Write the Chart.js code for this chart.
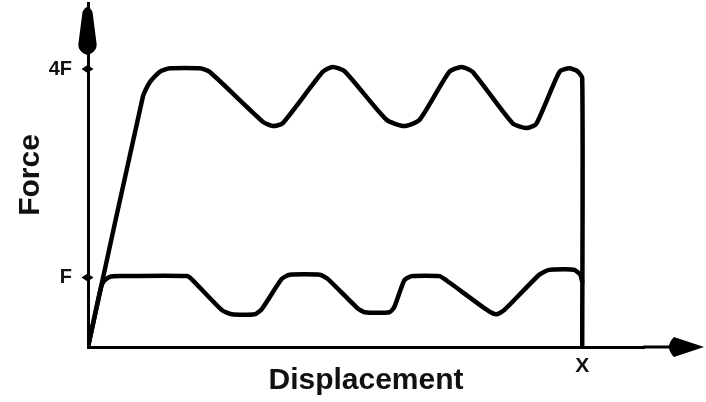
<!DOCTYPE html>
<html>
<head>
<meta charset="utf-8">
<script src="https://cdn.jsdelivr.net/npm/chart.js@4.4.1/dist/chart.umd.min.js"></script>
<style>
  html, body { margin: 0; padding: 0; background: #fff; }
  #wrap { width: 706px; height: 402px; position: relative; }
</style>
</head>
<body>
<div id="wrap"><canvas id="grafico"></canvas></div>
<script>
// Curva superior (oscila alrededor de 4F)
const upperX = [0, 0.111, 0.125, 0.145, 0.166, 0.226, 0.246, 0.354, 0.374, 0.394, 0.475, 0.495, 0.519,
                0.604, 0.640, 0.671, 0.731, 0.756, 0.778, 0.859, 0.887, 0.907, 0.954, 0.974, 0.990, 1.0, 1.0];
const upperY = [0, 3.60, 3.81, 3.96, 4.01, 4.01, 3.96, 3.24, 3.18, 3.22, 3.96, 4.03, 3.97,
                3.27, 3.18, 3.27, 3.96, 4.03, 3.96, 3.22, 3.15, 3.21, 3.96, 4.01, 3.97, 3.87, 0];

// Curva inferior (oscila alrededor de F)
const lowerX = [0, 0.026, 0.032, 0.044, 0.065, 0.200, 0.212, 0.271, 0.291, 0.337, 0.352, 0.392, 0.408,
                0.469, 0.485, 0.545, 0.560, 0.610, 0.620, 0.640, 0.655, 0.711, 0.725, 0.808, 0.826,
                0.842, 0.913, 0.933, 0.964, 0.984, 0.996, 1.0];
const lowerY = [0, 0.85, 0.95, 1.01, 1.02, 1.02, 0.96, 0.53, 0.47, 0.47, 0.55, 0.98, 1.04,
                1.04, 0.98, 0.56, 0.50, 0.50, 0.58, 0.96, 1.02, 1.02, 0.96, 0.53, 0.47,
                0.53, 1.04, 1.11, 1.12, 1.11, 1.04, 0.94];

// Marcas de los ejes
const yTickValues = [1, 4];
const yTickLabels = ['F', '4F'];
const xTickValues = [1];
const xTickLabels = ['X'];
const xTitle = 'Displacement';
const yTitle = 'Force';

Chart.defaults.font.family = '"Liberation Sans", Arial, sans-serif';
Chart.defaults.color = '#111';

// Flechas de los ejes y rombos de las marcas
const ejes = {
    id: 'ejes',
    afterDraw(chart) {
        const {ctx, chartArea, scales} = chart;
        const x0 = chartArea.left - 0.5;
        const y0 = scales.y.getPixelForValue(0);
        ctx.save();
        ctx.fillStyle = '#000';
        ctx.strokeStyle = '#000';
        ctx.lineWidth = 3;

        // prolongar el eje X hasta la flecha
        ctx.beginPath();
        ctx.moveTo(chartArea.right - 1, y0);
        ctx.lineTo(chart.width - 28, y0);
        ctx.stroke();

        const tip = chart.width - 2;
        ctx.beginPath();
        ctx.moveTo(tip, y0);
        ctx.lineTo(tip - 30, y0 - 10);
        ctx.quadraticCurveTo(tip - 40, y0, tip - 30, y0 + 10);
        ctx.closePath();
        ctx.fill();

        // flecha del eje Y
        const ty = chartArea.top + 2;
        ctx.beginPath();
        ctx.moveTo(x0, ty + 50);
        ctx.bezierCurveTo(x0 - 6, ty + 48, x0 - 10, ty + 44, x0 - 9, ty + 38);
        ctx.lineTo(x0 - 5, ty + 7);
        ctx.quadraticCurveTo(x0, ty - 3, x0 + 5, ty + 7);
        ctx.lineTo(x0 + 9, ty + 38);
        ctx.bezierCurveTo(x0 + 10, ty + 44, x0 + 6, ty + 48, x0, ty + 50);
        ctx.fill();

        // rombos en F y 4F
        yTickValues.forEach(v => {
            const py = scales.y.getPixelForValue(v);
            ctx.beginPath();
            ctx.moveTo(x0 - 6, py);
            ctx.lineTo(x0, py - 4);
            ctx.lineTo(x0 + 6, py);
            ctx.lineTo(x0, py + 4);
            ctx.closePath();
            ctx.fill();
        });
        ctx.restore();
    }
};

const ctx = document.getElementById('grafico').getContext('2d');
new Chart(ctx, {
    type: 'line',
    data: {
        datasets: [{
            label: 'Superior',
            data: upperX.map((x, i) => ({x: x, y: upperY[i]})),
            borderColor: '#000',
            borderWidth: 4.5,
            pointRadius: 0,
            tension: 0.2,
            borderJoinStyle: 'round',
            borderCapStyle: 'round',
            fill: false
        }, {
            label: 'Inferior',
            data: lowerX.map((x, i) => ({x: x, y: lowerY[i]})),
            borderColor: '#000',
            borderWidth: 4.5,
            pointRadius: 0,
            tension: 0.2,
            borderJoinStyle: 'round',
            borderCapStyle: 'round',
            fill: false
        }]
    },
    options: {
        responsive: true,
        maintainAspectRatio: false,
        animation: false,
        layout: {padding: {left: 0, right: 62, top: 3, bottom: 0}},
        plugins: {legend: {display: false}, tooltip: {enabled: false}},
        scales: {
            x: {
                type: 'linear',
                min: 0,
                max: 1.125,
                afterFit: s => { s.height = 55; s.paddingLeft = 0; s.paddingRight = 0; },
                afterBuildTicks: s => { s.ticks = xTickValues.map(v => ({value: v})); },
                ticks: {
                    padding: 7,
                    font: {size: 21, weight: 'bold'},
                    color: '#111',
                    callback: (v, i) => xTickLabels[i]
                },
                grid: {display: false, drawTicks: false},
                border: {display: true, color: '#000', width: 3},
                title: {
                    display: true,
                    text: xTitle,
                    font: {size: 30, weight: 'bold'},
                    color: '#111',
                    padding: {top: 0, bottom: 3}
                }
            },
            y: {
                type: 'linear',
                min: 0,
                max: 4.95,
                afterFit: s => { s.width = 88; s.paddingTop = 0; s.paddingBottom = 0; },
                afterBuildTicks: s => { s.ticks = yTickValues.map(v => ({value: v})); },
                ticks: {
                    padding: 16,
                    font: {size: 20, weight: 'bold'},
                    color: '#111',
                    callback: (v, i) => yTickLabels[i]
                },
                grid: {display: false, drawTicks: false},
                border: {display: true, color: '#000', width: 3},
                title: {
                    display: true,
                    text: yTitle,
                    font: {size: 30, weight: 'bold'},
                    color: '#111',
                    padding: {top: 13, bottom: 0}
                }
            }
        }
    },
    plugins: [ejes]
});
</script>
</body>
</html>
